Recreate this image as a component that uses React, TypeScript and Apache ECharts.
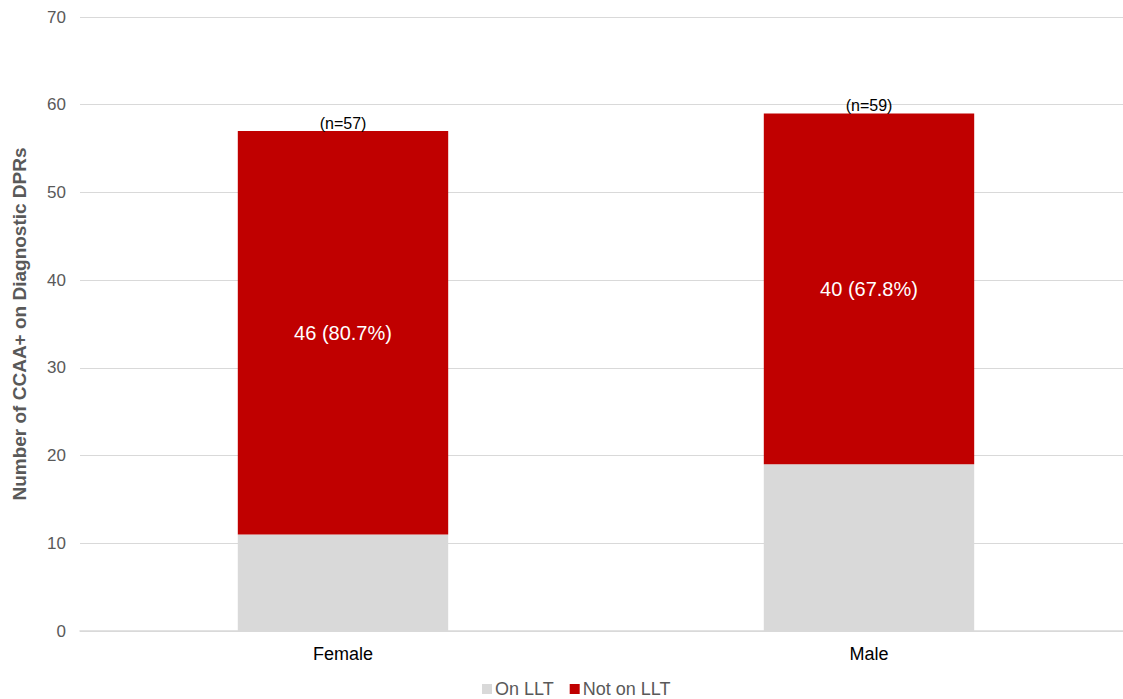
import React, { useEffect, useRef } from "react";
import * as echarts from "echarts";

const categories = ["Female", "Male"];
const onLLT = [11, 19];
const notOnLLT = [46, 40];
const notOnLabels = ["46 (80.7%)", "40 (67.8%)"];
const totalLabels = ["(n=57)", "(n=59)"];

export default function App() {
  const ref = useRef<HTMLDivElement>(null);
  useEffect(() => {
    if (!ref.current) return;
    const chart = echarts.init(ref.current, null, { renderer: "svg" });
    chart.setOption({
      animation: false,
      textStyle: { fontFamily: "Liberation Sans, Arial, sans-serif" },
      grid: {
        left: 80,
        right: -9,
        top: 17,
        bottom: 68,
        containLabel: false,
        outerBoundsMode: "none",
      },
      legend: {
        bottom: -4,
        left: 477,
        itemWidth: 10,
        itemHeight: 10,
        itemGap: 16,
        icon: "rect",
        textStyle: { color: "#595959", fontSize: 18, padding: [0, 0, 0, -2] },
        data: ["On LLT", "Not on LLT"],
      },
      xAxis: {
        type: "category",
        data: categories,
        axisLine: { lineStyle: { color: "#d9d9d9", width: 1.5 } },
        axisTick: { show: false },
        axisLabel: { color: "#000", fontSize: 18, margin: 14 },
      },
      yAxis: {
        type: "value",
        min: 0,
        max: 70,
        interval: 10,
        name: "Number of CCAA+ on Diagnostic DPRs",
        nameLocation: "middle",
        nameGap: 51,
        nameTextStyle: { color: "#595959", fontSize: 19, fontWeight: "bold" },
        axisLine: { show: false },
        axisTick: { show: false },
        axisLabel: { color: "#595959", fontSize: 17, margin: 14 },
        splitLine: { lineStyle: { color: "#d9d9d9", width: 1 } },
      },
      series: [
        {
          name: "On LLT",
          type: "bar",
          stack: "total",
          barWidth: "40%",
          itemStyle: { color: "#d9d9d9" },
          data: onLLT,
        },
        {
          name: "Not on LLT",
          type: "bar",
          stack: "total",
          itemStyle: { color: "#c00000" },
          label: {
            show: true,
            position: "inside",
            color: "#fff",
            fontSize: 20,
            formatter: (p: any) => notOnLabels[p.dataIndex],
          },
          data: notOnLLT,
        },
        {
          name: "total",
          type: "bar",
          stack: "total",
          itemStyle: { color: "transparent" },
          label: {
            show: true,
            position: "top",
            distance: 0,
            color: "#000",
            fontSize: 16,
            formatter: (p: any) => totalLabels[p.dataIndex],
          },
          data: [0, 0],
          tooltip: { show: false },
        },
      ],
    });
    return () => chart.dispose();
  }, []);
  return (
    <div
      ref={ref}
      style={{ position: "fixed", left: 0, top: 0, width: 1123, height: 699, background: "#fff" }}
    />
  );
}
